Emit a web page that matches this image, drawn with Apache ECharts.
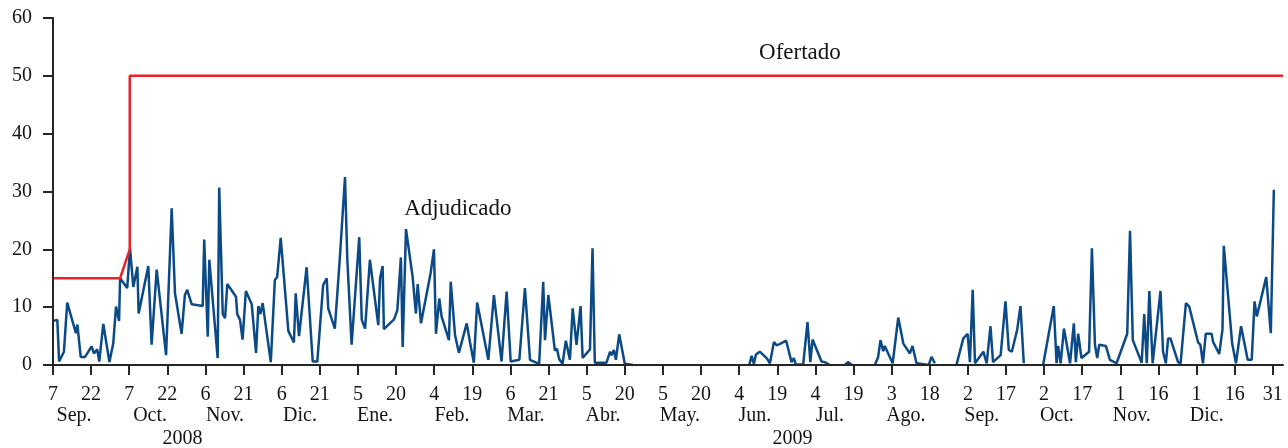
<!DOCTYPE html>
<html>
<head>
<meta charset="utf-8">
<script src="https://cdn.jsdelivr.net/npm/echarts@6/dist/echarts.min.js"></script>
<style>
html, body { margin: 0; padding: 0; background: #fff; }
#main { width: 1288px; height: 448px; }
</style>
</head>
<body>
<div id="main"></div>
<script>
// eje x: días contados desde el 7 de sep. de 2008
var tickLabels = ['7', '22', '7', '22', '6', '21', '6', '21', '5', '20', '4', '19', '6', '21', '5', '20',
    '5', '20', '4', '19', '4', '19', '3', '18', '2', '17', '2', '17', '1', '16', '1', '16', '31'];
var monthNames = ['Sep.', 'Oct.', 'Nov.', 'Dic.', 'Ene.', 'Feb.', 'Mar.', 'Abr.', 'May.', 'Jun.', 'Jul.', 'Ago.', 'Sep.', 'Oct.', 'Nov.', 'Dic.'];
var monthDays = [8.3, 38.2, 67.7, 97.2, 126.7, 157, 186.1, 216.4, 246.7, 276.2, 305.7, 335.6, 365.5, 395, 424.5, 454];
var yearNames = ['2008', '2009'];
var yearDays = [51, 291];

// Ofertado
var ofeDays = [0, 26.4, 30.2, 30.2, 484];
var ofeValues = [15, 15, 20, 50, 50];

// Adjudicado (null = sin dato)
var adjDays = [
    0, 1.7, 2.4, 4.3, 5.6, 9.0, 9.6, 10.9, 12.6, 15.2, 16.1, 17.4, 18.2, 19.8, 22.2, 23.7, 24.8, 26.0, 26.4, 29.2, 30.3, 31.6, 33.2, 33.7, 37.5, 38.8,
    40.8, 44.5, 46.7, 48.0, 50.6, 51.9, 52.8, 54.6, 58.9, 59.5, 60.9, 61.5, 64.8, 65.4, 66.8, 67.7, 68.6, 72.0, 72.5, 73.6, 74.6, 75.9, 78.2, 79.9, 80.8, 81.6, 82.5,
    85.7, 87.3, 88.2, 89.6, 92.6, 94.8, 95.5, 96.8, 99.8, 102.2, 104.0, 106.3, 107.7, 108.3, 110.9, 112.9, 114.9, 115.8, 117.5, 120.5, 121.5, 122.8, 124.7,
    128.0, 128.7, 129.7, 130.2, 134.2, 135.5, 136.9, 137.6, 138.9, 141.5, 142.8, 143.5, 144.8, 148.6, 149.9, 150.7, 152.0, 152.9, 155.8, 156.5, 158.2, 159.7, 162.8, 164.1, 165.6, 166.9, 171.3,
    173.5, 176.5, 178.5, 180.1, 183.5, 185.7, 187.7, 191.3, 192.9, 193.6, 194.9, 197.5, 198.3, 199.2, 200.5, 201.8, 203.4, 204.5, 206.0, 207.6, 208.4, 211.3, 212.3, 213.2,
    217.8, 219.2, 219.8, 220.7, 221.5, 222.8, 225.0, 228.3, 250.0, 274.0,
    274.9, 275.8, 276.6, 278.1, 280.8, 282.1, 283.7, 284.7, 285.9, 288.5,
    290.6, 291.5, 292.3, 295.2, 296.9, 298.0, 298.9, 302.4, 303.7, 305.7, 308.6,
    311.6, 312.8, 314.4, 319.0, 323.4, 324.7, 325.6, 326.7, 327.3, 330.4, 332.6,
    334.6, 337.2, 338.2, 339.8, 344.6, 345.7, 347.0, 351.0, 355.5, 358.2, 359.9,
    360.8, 361.9, 362.8, 366.1, 367.4, 368.9, 369.9, 372.9, 374.8, 376.1,
    377.3, 379.4, 380.7, 382.0, 386.0, 389.6, 393.8, 394.9, 395.5, 396.5, 397.8,
    400.2, 401.7, 402.5, 403.4, 404.7, 407.7, 408.8, 410.0, 410.9, 411.7,
    414.3, 415.9, 418.5, 422.7, 423.8, 424.9, 428.4, 429.4, 430.4, 431.4,
    432.7, 435.8, 436.8, 437.9, 438.8, 439.7, 442.7, 443.7, 445.8, 447.1,
    450.6, 451.5, 452.5, 453.6, 455.9, 456.5, 458.9, 460.2, 460.7, 464.0,
    465.5, 467.5, 470.1, 471.7, 472.8, 473.7, 477.4, 479.2, 480.4
];
var adjValues = [
    7.6, 7.8, 0.6, 2.3, 10.8, 5.5, 7.0, 1.4, 1.4, 3.2, 2.0, 2.7, 0.6, 7.1, 0.5, 3.7, 10.1, 7.6, 15.0, 13.3, 20.2, 13.5, 17.0, 8.9, 17.1, 3.5,
    16.5, 1.7, 27.1, 12.4, 5.4, 12.1, 13.0, 10.5, 10.2, 21.7, 4.9, 18.2, 1.2, 30.7, 8.8, 8.1, 14.0, 11.8, 8.8, 7.8, 4.4, 12.8, 10.5, 2.1, 10.2, 8.8, 10.7,
    0.5, 14.7, 15.2, 22.0, 5.9, 3.9, 12.4, 5.0, 16.9, 0.6, 0.6, 13.8, 15.0, 9.8, 6.3, 18.7, 32.5, 18.4, 3.5, 22.1, 7.8, 6.3, 18.2,
    6.9, 15.0, 17.1, 6.2, 7.9, 9.5, 18.6, 3.1, 23.5, 15.3, 8.9, 14.0, 7.2, 15.9, 20.0, 5.4, 11.5, 8.4, 4.3, 14.4, 5.2, 2.1, 7.2, 3.9, 0.4, 10.8, 0.9,
    12.1, 0.6, 12.7, 0.6, 0.9, 13.3, 0.9, 0.2, 14.4, 4.3, 12.1, 2.5, 2.8, 1.0, 0.2, 4.2, 0.9, 9.8, 3.5, 10.2, 1.2, 2.7, 20.2, 0.4,
    0.4, 2.3, 1.7, 2.6, 0.9, 5.3, 0.2, 0, null, 0,
    1.6, 0.2, 1.8, 2.3, 1.2, 0.3, 4.0, 3.4, 3.6, 4.2,
    0.5, 1.2, 0.1, 0.1, 7.4, 0.5, 4.4, 0.6, 0.5, 0, null,
    0, 0.5, 0, null, 0, 1.4, 4.3, 2.4, 3.3, 0.3, 8.2,
    3.7, 2.0, 3.3, 0.3, 0, 1.4, 0.3, null, 0, 4.6, 5.4,
    0.5, 13.0, 0.3, 2.3, 0.3, 6.7, 0.5, 1.7, 11.0, 2.6,
    2.3, 6.1, 10.2, 0.3, null, 0, 10.2, 0.3, 3.3, 0.3, 6.3,
    0.3, 7.2, 0.5, 5.4, 1.2, 2.3, 20.2, 3.5, 1.2, 3.5,
    3.3, 0.9, 0.3, 5.4, 23.2, 4.3, 0.4, 8.8, 0.3, 12.8,
    0.3, 12.8, 2.3, 0.3, 4.6, 4.6, 0.5, 0.3, 10.7, 10.1,
    3.9, 3.5, 0.3, 5.4, 5.4, 4.0, 1.9, 6.2, 20.6, 3.7,
    0.3, 6.7, 0.9, 0.9, 11.0, 8.4, 15.2, 5.5, 30.3
];

var font = 'Liberation Serif';
var axisColor = '#262626';
var textColor = '#141414';

var tickPos = [];
for (var i = 0; i < tickLabels.length; i++) {
    tickPos.push(i * 15);
}

function zip(xs, ys) {
    return xs.map(function (x, i) { return [x, ys[i] === null ? '-' : ys[i]]; });
}

var myChart = echarts.init(document.getElementById('main'));

var option = {
    animation: false,
    backgroundColor: '#fff',
    grid: {
        left: 53,
        right: 5,
        top: 18,
        bottom: 83,
        containLabel: false,
        outerBoundsMode: 'none'
    },
    xAxis: [{
        type: 'value',
        min: 0,
        max: 484,
        position: 'bottom',
        z: 5,
        axisLine: { show: true, lineStyle: { color: axisColor, width: 2 } },
        axisTick: { show: true, customValues: tickPos, length: 10, lineStyle: { color: axisColor, width: 2 } },
        axisLabel: {
            customValues: tickPos,
            formatter: function (v) { return tickLabels[Math.round(v / 15)]; },
            margin: 20,
            color: textColor,
            fontFamily: font,
            fontSize: 20
        },
        splitLine: { show: false }
    }, {
        type: 'value',
        min: 0,
        max: 484,
        position: 'bottom',
        offset: 21,
        axisLine: { show: false },
        axisTick: { show: false },
        axisLabel: {
            customValues: monthDays,
            formatter: function (v) { return monthNames[monthDays.indexOf(v)]; },
            margin: 20,
            color: textColor,
            fontFamily: font,
            fontSize: 20
        },
        splitLine: { show: false }
    }, {
        type: 'value',
        min: 0,
        max: 484,
        position: 'bottom',
        offset: 44,
        axisLine: { show: false },
        axisTick: { show: false },
        axisLabel: {
            customValues: yearDays,
            formatter: function (v) { return yearNames[yearDays.indexOf(v)]; },
            margin: 20,
            color: textColor,
            fontFamily: font,
            fontSize: 20
        },
        splitLine: { show: false }
    }],
    yAxis: {
        type: 'value',
        min: 0,
        max: 60,
        interval: 10,
        z: 5,
        axisLine: { show: true, lineStyle: { color: axisColor, width: 2 } },
        axisTick: { show: true, length: 10, lineStyle: { color: axisColor, width: 2 } },
        axisLabel: {
            margin: 21,
            color: textColor,
            fontFamily: font,
            fontSize: 20
        },
        splitLine: { show: false }
    },
    series: [{
        name: 'Adjudicado',
        type: 'line',
        data: zip(adjDays, adjValues),
        showSymbol: false,
        symbol: 'none',
        connectNulls: false,
        lineStyle: { color: '#0b4a87', width: 2.5 },
        markPoint: {
            symbol: 'rect',
            symbolSize: 1,
            itemStyle: { color: 'rgba(0,0,0,0)' },
            label: {
                show: true,
                position: 'inside',
                formatter: 'Adjudicado',
                color: textColor,
                fontFamily: font,
                fontSize: 23
            },
            data: [{ coord: [159.3, 27] }]
        }
    }, {
        name: 'Ofertado',
        type: 'line',
        data: zip(ofeDays, ofeValues),
        showSymbol: false,
        symbol: 'none',
        lineStyle: { color: '#e8232b', width: 2.5 },
        markPoint: {
            symbol: 'rect',
            symbolSize: 1,
            itemStyle: { color: 'rgba(0,0,0,0)' },
            label: {
                show: true,
                position: 'inside',
                formatter: 'Ofertado',
                color: textColor,
                fontFamily: font,
                fontSize: 23
            },
            data: [{ coord: [293.9, 54] }]
        }
    }]
};

myChart.setOption(option);
</script>
</body>
</html>
